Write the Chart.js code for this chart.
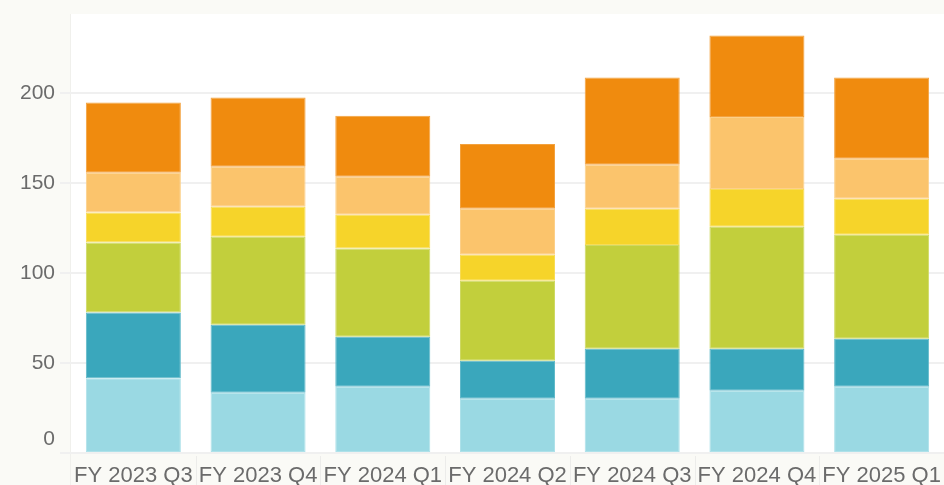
<!DOCTYPE html>
<html>
<head>
<meta charset="utf-8">
<script src="https://cdn.jsdelivr.net/npm/chart.js@4/dist/chart.umd.min.js"></script>
<style>
  html, body { margin: 0; padding: 0; background: #fafaf6; }
  #wrap { width: 944px; height: 485px; position: relative; }
</style>
</head>
<body>
<div id="wrap"><canvas id="c" width="944" height="485"></canvas></div>
<script>
const categories = ["FY 2023 Q3", "FY 2023 Q4", "FY 2024 Q1", "FY 2024 Q2", "FY 2024 Q3", "FY 2024 Q4", "FY 2025 Q1"];
const seriesA = [41.5, 33.5, 36.8, 30.2, 30.2, 34.6, 36.8];   // light blue
const seriesB = [36.6, 37.8, 27.8, 21.1, 27.8, 23.4, 26.7];   // teal
const seriesC = [38.9, 48.9, 49.1, 44.4, 57.6, 67.7, 57.8];   // green
const seriesD = [16.7, 16.6, 18.7, 14.5, 20.1, 21.1, 20.0];   // yellow
const seriesE = [22.0, 22.3, 21.1, 25.5, 24.5, 40.0, 22.2];   // light orange
const seriesF = [39.1, 38.5, 33.9, 36.1, 48.5, 45.2, 45.2];   // orange
const yTickValues = [0, 50, 100, 150, 200];

const fills = ["#9ad9e3", "#3aa7bc", "#c2cf3c", "#f6d42a", "#fbc46c", "#f08b0e"];
const borders = ["#aee1e9", "#61b9c9", "#ced963", "#f8dc55", "#fcd089", "#f3a23e"];
const seriesList = [seriesA, seriesB, seriesC, seriesD, seriesE, seriesF];

const bgPlugin = {
  id: 'bg',
  beforeDraw(chart) {
    const { ctx, chartArea: a } = chart;
    ctx.save();
    ctx.fillStyle = '#fafaf6';
    ctx.fillRect(0, 0, chart.width, chart.height);
    ctx.fillStyle = '#ffffff';
    ctx.fillRect(a.left, a.top, chart.width - a.left, a.bottom - a.top);
    ctx.strokeStyle = '#f0f0ec';
    ctx.lineWidth = 1;
    ctx.beginPath();
    ctx.moveTo(a.left - 0.5, a.top);
    ctx.lineTo(a.left - 0.5, chart.height);
    ctx.stroke();
    const xs = chart.scales.x;
    ctx.strokeStyle = '#ececea';
    for (let i = 1; i < categories.length; i++) {
      const xp = Math.round((xs.getPixelForValue(i - 1) + xs.getPixelForValue(i)) / 2) + 0.5;
      ctx.beginPath();
      ctx.moveTo(xp, a.bottom + 3);
      ctx.lineTo(xp, chart.height);
      ctx.stroke();
    }
    ctx.restore();
  },
  afterDraw(chart) {
    const { ctx } = chart;
    const ys = chart.scales.y;
    ctx.save();
    ctx.fillStyle = '#6b6b6b';
    ctx.font = '21px "Liberation Sans", Arial, sans-serif';
    ctx.textAlign = 'right';
    ctx.textBaseline = 'middle';
    yTickValues.forEach(v => {
      let yp = ys.getPixelForValue(v);
      if (v === 0) yp -= 14;
      ctx.fillText(String(v), 55, yp);
    });
    ctx.restore();
  }
};

new Chart(document.getElementById('c'), {
  type: 'bar',
  data: {
    labels: categories,
    datasets: seriesList.map((d, i) => ({
      data: d,
      backgroundColor: fills[i],
      borderColor: borders[i],
      borderWidth: 1,
      borderSkipped: false,
      barPercentage: 0.762,
      categoryPercentage: 1.0
    }))
  },
  options: {
    responsive: false,
    animation: false,
    layout: { padding: { left: 60, top: 14, right: 0, bottom: 0 } },
    plugins: { legend: { display: false }, tooltip: { enabled: false } },
    scales: {
      x: {
        stacked: true,
        grid: { display: false },
        border: { display: false },
        afterFit(scale) { scale.height = 32; },
        ticks: {
          color: '#6b6b6b',
          font: { family: '"Liberation Sans", Arial, sans-serif', size: 22 },
          padding: 2,
          maxRotation: 0,
          autoSkip: false
        }
      },
      y: {
        stacked: true,
        min: 0,
        max: 244,
        afterBuildTicks(scale) {
          scale.ticks = yTickValues.map(v => ({ value: v }));
        },
        grid: { color: '#f0f0f0', lineWidth: 2, tickLength: 11, drawTicks: true },
        border: { display: false },
        ticks: { display: false }
      }
    }
  },
  plugins: [bgPlugin]
});
</script>
</body>
</html>
